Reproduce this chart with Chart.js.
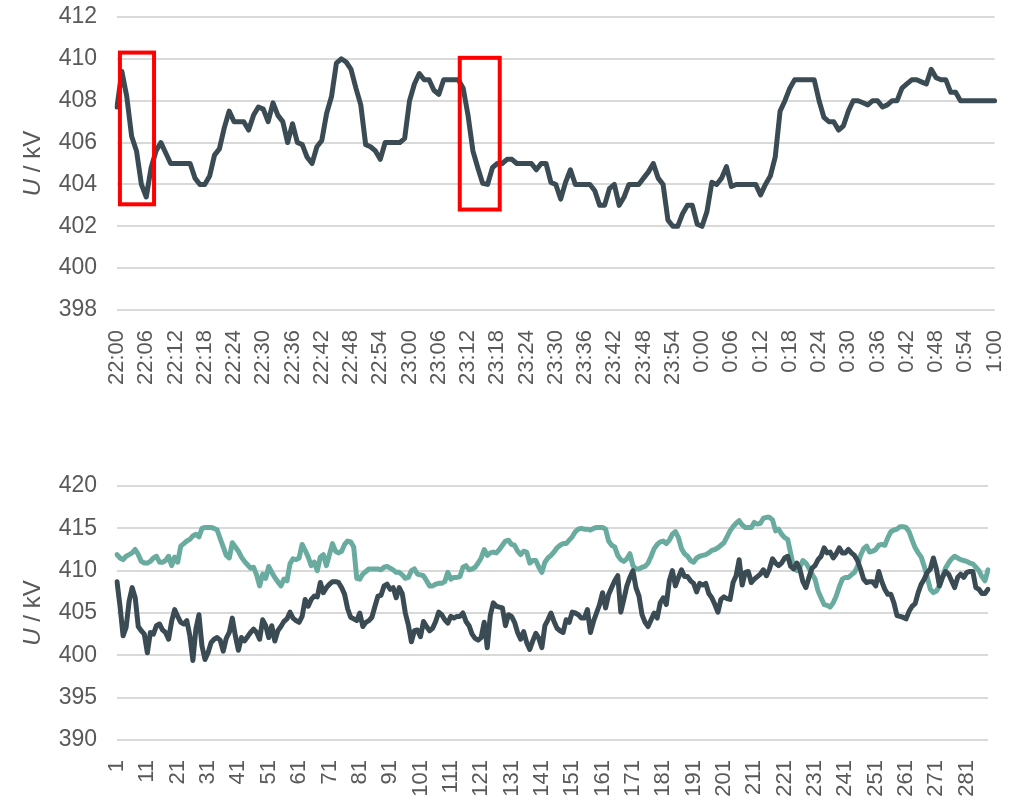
<!DOCTYPE html>
<html lang="de">
<head>
  <meta charset="UTF-8">
  <title>Spannungsverlauf</title>
  <script src="https://cdn.jsdelivr.net/npm/chart.js"></script>
  <style>
    body {
      margin: 0;
      background: #ffffff;
      font-family: 'Liberation Sans', Arial, sans-serif;
    }

    .wrap {
      position: relative;
      width: 1033px;
      height: 796px;
    }

    #chartTop {
      position: absolute;
      left: 0;
      top: 0;
    }

    #chartBottom {
      position: absolute;
      left: 0;
      top: 400px;
    }
  </style>
</head>
<body>

<div class="wrap">
  <canvas id="chartTop" width="1033" height="400"></canvas>
  <canvas id="chartBottom" width="1033" height="396"></canvas>
</div>

<script>
  // oberes Diagramm: 22:00 bis 1:00, minütlich
  const topLabels = [];
  for (let m = 0; m <= 180; m++) {
    const h = (22 + Math.floor(m / 60)) % 24;
    topLabels.push(h + ':' + String(m % 60).padStart(2, '0'));
  }

  const topValues = [
    407.7, 409.4, 408.2, 406.3, 405.6, 404.0, 403.4, 404.8, 405.6, 406.0,
    405.5, 405.0, 405.0, 405.0, 405.0, 405.0, 404.3, 404.0, 404.0, 404.4,
    405.4, 405.7, 406.7, 407.5, 407.0, 407.0, 407.0, 406.6, 407.3, 407.7,
    407.6, 407.0, 407.9, 407.3, 407.0, 406.0, 406.9, 406.0, 405.9, 405.3,
    405.0, 405.8, 406.1, 407.4, 408.2, 409.8, 410.0, 409.85, 409.5, 408.6,
    407.8, 405.9, 405.8, 405.6, 405.2, 406.0, 406.0, 406.0, 406.0, 406.2,
    408.0, 408.8, 409.3, 409.0, 409.0, 408.5, 408.3, 409.0, 409.0, 409.0,
    409.0, 408.6, 407.3, 405.6, 404.8, 404.05, 404.0, 404.8, 405.0, 405.0,
    405.2, 405.2, 405.0, 405.0, 405.0, 405.0, 404.7, 405.0, 405.0, 404.1,
    404.0, 403.3, 404.1, 404.7, 404.0, 404.0, 404.0, 404.0, 403.7, 403.0,
    403.0, 403.8, 404.0, 403.0, 403.4, 404.0, 404.0, 404.0, 404.3, 404.6,
    405.0, 404.3, 404.0, 402.3, 402.0, 402.0, 402.6, 403.0, 403.0, 402.1,
    402.0, 402.7, 404.1, 404.0, 404.3, 404.85, 403.9, 404.0, 404.0, 404.0,
    404.0, 404.0, 403.5, 404.0, 404.4, 405.3, 407.5, 408.0, 408.6, 409.0,
    409.0, 409.0, 409.0, 409.0, 408.0, 407.2, 407.0, 407.0, 406.6, 406.8,
    407.5, 408.0, 408.0, 407.9, 407.8, 408.0, 408.0, 407.7, 407.8, 408.0,
    408.0, 408.6, 408.8, 409.0, 409.0, 408.9, 408.8, 409.5, 409.1, 409.0,
    409.0, 408.4, 408.4, 408.0, 408.0, 408.0, 408.0, 408.0, 408.0, 408.0,
    408.0
  ];

  // markierte Bereiche (Minutenindex / kV)
  const markBoxes = [
    { from: 0.6, to: 7.6, low: 403.05, high: 410.3 },
    { from: 70.3, to: 78.5, low: 402.8, high: 410.05 }
  ];

  // unteres Diagramm: Messpunkte 1..288
  const bottomLabels = [];
  for (let i = 1; i <= 288; i++) bottomLabels.push(String(i));

  const seriesTeal = [
    411.9, 411.5, 411.3, 411.7, 411.9, 412.1, 412.5, 411.9, 411.1, 410.9,
    410.9, 411.1, 411.5, 411.7, 411.0, 411.0, 411.2, 411.7, 410.6, 411.6,
    411.0, 412.9, 413.2, 413.5, 413.7, 414.1, 414.3, 414.0, 415.0, 415.1,
    415.1, 415.1, 415.0, 414.8, 413.8, 412.8, 411.8, 411.5, 413.3, 412.8,
    412.3, 411.6, 411.1, 410.7, 410.3, 410.4, 409.5, 408.2, 409.6, 409.1,
    410.5, 409.8, 409.2, 408.7, 408.2, 409.0, 408.8, 410.8, 411.4, 411.3,
    411.5, 413.1, 412.4, 411.6, 410.6, 411.0, 410.0, 411.6, 411.9, 410.6,
    411.9, 413.2, 412.3, 412.1, 412.3, 413.1, 413.5, 413.4, 412.8, 409.1,
    409.0, 409.6, 409.9, 410.2, 410.2, 410.2, 410.2, 410.1, 410.4, 410.5,
    410.3, 410.1, 409.8, 409.8, 409.5, 409.1, 409.2, 410.0, 410.2, 409.6,
    409.5, 409.4, 408.8, 408.2, 408.2, 408.4, 408.5, 408.5, 408.7, 409.8,
    409.0, 409.2, 409.2, 409.3, 410.4, 410.6, 410.1, 410.2, 410.4, 410.9,
    411.5, 412.5, 411.8, 412.1, 412.2, 412.1, 412.5, 413.0, 413.5, 413.6,
    413.1, 413.0, 412.3, 411.9, 412.3, 412.2, 410.9, 411.2, 411.2, 410.4,
    409.8, 411.0, 411.5, 411.8, 412.2, 412.7, 413.0, 413.2, 413.2, 413.6,
    414.0, 414.6, 414.9, 415.0, 414.9, 414.9, 414.8, 415.0, 415.1, 415.1,
    415.1, 414.9, 413.5, 413.0, 412.8, 411.8, 411.3, 411.1, 411.4, 412.0,
    410.6, 410.2, 410.2, 410.4, 410.5, 410.9, 411.7, 412.6, 413.1, 413.4,
    413.5, 413.2, 413.6, 414.3, 414.6, 413.9, 412.6, 412.0, 411.7, 411.2,
    411.0, 411.5, 411.7, 411.8, 411.9, 412.1, 412.4, 412.5, 412.7, 413.0,
    413.3, 414.0, 414.7, 415.2, 415.6, 415.9, 415.4, 415.1, 415.1, 415.1,
    415.7, 415.5, 415.6, 416.2, 416.3, 416.3, 416.0, 414.7, 414.9, 414.3,
    413.9, 413.7, 412.0, 410.3, 410.0, 410.4, 411.2, 410.9, 410.3, 409.6,
    409.0, 407.6, 406.8, 406.0, 405.9, 405.7, 406.2, 407.0, 408.1, 409.0,
    409.2, 409.2, 409.5, 409.8, 410.5, 411.8, 412.6, 412.9, 412.2, 412.3,
    412.5, 413.0, 413.1, 413.0, 413.9, 414.6, 414.8, 414.9, 415.2, 415.2,
    415.1, 414.6, 413.6, 412.7, 412.1, 411.6, 410.5, 409.2, 407.8, 407.4,
    407.6, 408.2, 409.3, 410.3, 410.9, 411.4, 411.7, 411.5, 411.3, 411.2,
    411.1, 410.9, 410.8, 410.4, 410.0, 409.3, 408.8, 410.1
  ];

  const seriesDark = [
    408.7, 405.8, 402.3, 403.3, 406.4, 408.0, 406.8, 403.4, 402.9, 402.5,
    400.3, 402.7, 402.5, 403.5, 403.7, 403.0, 402.7, 401.9, 404.0, 405.4,
    404.6, 403.9, 403.7, 404.1, 402.3, 399.4, 403.1, 404.8, 401.1, 399.5,
    400.3, 401.5, 401.9, 402.1, 401.8, 400.5, 402.0, 402.7, 404.4, 402.3,
    400.6, 402.1, 401.7, 402.2, 402.7, 403.1, 402.7, 401.9, 404.2, 403.5,
    402.1, 403.5, 401.7, 402.9, 403.4, 404.0, 404.3, 405.1, 404.4, 404.1,
    403.9, 404.6, 406.6, 405.8, 406.6, 407.0, 406.9, 408.6, 407.4, 408.0,
    408.4, 408.7, 408.7, 408.6, 408.0, 407.2, 405.5, 404.5, 404.3, 404.1,
    405.0, 403.4, 403.9, 404.1, 404.5, 405.8, 407.0, 407.1, 408.2, 408.4,
    407.8, 408.0, 406.8, 408.0, 407.3, 405.0, 403.6, 401.6, 402.9, 403.0,
    402.2, 404.0, 403.4, 402.9, 403.2, 404.0, 405.1, 404.8, 404.2, 403.8,
    404.6, 404.4, 404.6, 404.6, 405.0, 404.0, 403.5, 402.5, 402.0, 401.8,
    402.1, 403.9, 400.9, 404.7, 406.2, 405.8, 405.7, 405.6, 403.5, 404.8,
    404.6, 403.9, 402.7, 401.9, 402.8, 401.5, 400.7, 401.7, 402.6, 402.0,
    400.9, 403.5, 404.2, 405.0, 404.0, 403.2, 402.9, 402.7, 404.2, 403.9,
    405.1, 405.0, 404.8, 404.4, 404.4, 405.4, 402.7, 404.0, 405.0, 406.0,
    407.4, 405.6, 407.2, 408.0, 408.8, 409.4, 405.1, 406.6, 408.2, 409.2,
    410.0, 408.0, 407.0, 404.8, 403.9, 403.4, 404.2, 405.0, 404.4, 406.2,
    406.8, 406.0, 408.8, 410.0, 408.2, 409.2, 410.1, 409.3, 409.3, 408.8,
    408.5, 407.5, 408.5, 408.3, 408.5, 407.3, 406.8, 406.0, 405.1, 406.6,
    406.9, 406.7, 406.6, 408.6, 409.4, 411.3, 408.3, 409.8, 409.9, 408.6,
    409.0, 409.3, 409.6, 410.1, 409.4, 410.2, 411.4, 410.9, 410.6, 410.9,
    411.5, 411.7, 410.5, 410.2, 410.9, 410.2, 408.7, 408.0, 409.2, 410.3,
    410.6, 411.3, 411.7, 412.7, 412.1, 412.2, 411.5, 412.0, 412.7, 412.1,
    412.1, 412.5, 412.1, 411.8, 411.2, 410.2, 409.0, 408.6, 408.7, 408.7,
    408.2, 409.9, 408.7, 407.8, 407.2, 407.2, 406.2, 404.7, 404.6, 404.5,
    404.3, 405.2, 405.8, 406.1, 407.4, 408.4, 409.0, 409.8, 410.2, 411.5,
    410.2, 408.2, 409.2, 409.9, 409.6, 408.8, 408.0, 409.2, 409.6, 409.2,
    409.8, 409.9, 409.9, 408.0, 407.8, 407.3, 407.3, 407.8
  ];

  const darkColor = '#3A4B53';
  const tealColor = '#6AABA0';
  const gridColor = '#D9D9D9';
  const textColor = '#595959';
  const fontFamily = "'Liberation Sans', Arial, sans-serif";

  // Achsentitel "U / kV" mit kursivem U
  const yTitlePlugin = {
    id: 'yTitle',
    afterDraw(chart) {
      const ctx = chart.ctx;
      const area = chart.chartArea;
      ctx.save();
      ctx.translate(33, (area.top + area.bottom) / 2);
      ctx.rotate(-Math.PI / 2);
      ctx.fillStyle = textColor;
      ctx.textBaseline = 'middle';
      ctx.font = 'italic 24px ' + fontFamily;
      const w1 = ctx.measureText('U').width;
      ctx.font = '24px ' + fontFamily;
      const w2 = ctx.measureText(' / kV').width;
      let x = -(w1 + w2) / 2;
      ctx.font = 'italic 24px ' + fontFamily;
      ctx.fillText('U', x, 0);
      ctx.font = '24px ' + fontFamily;
      ctx.fillText(' / kV', x + w1, 0);
      ctx.restore();
    }
  };

  const boxPlugin = {
    id: 'markBoxes',
    afterDatasetsDraw(chart) {
      const ctx = chart.ctx;
      const xs = chart.scales.x;
      const ys = chart.scales.y;
      ctx.save();
      ctx.strokeStyle = '#FF0000';
      ctx.lineWidth = 4;
      markBoxes.forEach(b => {
        const x0 = xs.getPixelForValue(b.from);
        const x1 = xs.getPixelForValue(b.to);
        const y0 = ys.getPixelForValue(b.high);
        const y1 = ys.getPixelForValue(b.low);
        ctx.strokeRect(x0, y0, x1 - x0, y1 - y0);
      });
      ctx.restore();
    }
  };

  function baseOptions(opts) {
    return {
      responsive: false,
      animation: false,
      layout: { padding: { top: opts.padTop, right: opts.padRight, left: 0, bottom: 0 } },
      plugins: { legend: { display: false }, tooltip: { enabled: false } },
      elements: { point: { radius: 0 }, line: { tension: 0, borderJoinStyle: 'round', borderCapStyle: 'round' } },
      scales: {
        x: {
          grid: { display: false },
          border: { display: false },
          afterFit(scale) { scale.height = opts.xHeight; },
          ticks: {
            autoSkip: false,
            minRotation: 90,
            maxRotation: 90,
            padding: 12,
            color: textColor,
            font: { family: fontFamily, size: 22 },
            callback: opts.tickCb
          }
        },
        y: {
          min: opts.min,
          max: opts.max,
          border: { display: false },
          grid: { color: gridColor, lineWidth: 2, drawTicks: false },
          afterFit(scale) {
            scale.width = 117;
            scale.paddingTop = 0;
            scale.paddingBottom = 0;
          },
          ticks: {
            stepSize: opts.step,
            padding: 20,
            color: textColor,
            font: { family: fontFamily, size: 23 }
          }
        }
      }
    };
  }

  new Chart(document.getElementById('chartTop'), {
    type: 'line',
    data: {
      labels: topLabels,
      datasets: [{
        data: topValues,
        borderColor: darkColor,
        borderWidth: 5
      }]
    },
    options: baseOptions({
      padTop: 17, padRight: 35, xHeight: 90,
      min: 398, max: 412, step: 2,
      tickCb: (v, i) => (i % 6 === 0 ? topLabels[i] : '')
    }),
    plugins: [yTitlePlugin, boxPlugin]
  });

  new Chart(document.getElementById('chartBottom'), {
    type: 'line',
    data: {
      labels: bottomLabels,
      datasets: [
        { data: seriesDark, borderColor: darkColor, borderWidth: 5, order: 0 },
        { data: seriesTeal, borderColor: tealColor, borderWidth: 5, order: 1 }
      ]
    },
    options: baseOptions({
      padTop: 86, padRight: 45, xHeight: 56,
      min: 390, max: 420, step: 5,
      tickCb: (v, i) => (i % 10 === 0 ? bottomLabels[i] : '')
    }),
    plugins: [yTitlePlugin]
  });
</script>

</body>
</html>
